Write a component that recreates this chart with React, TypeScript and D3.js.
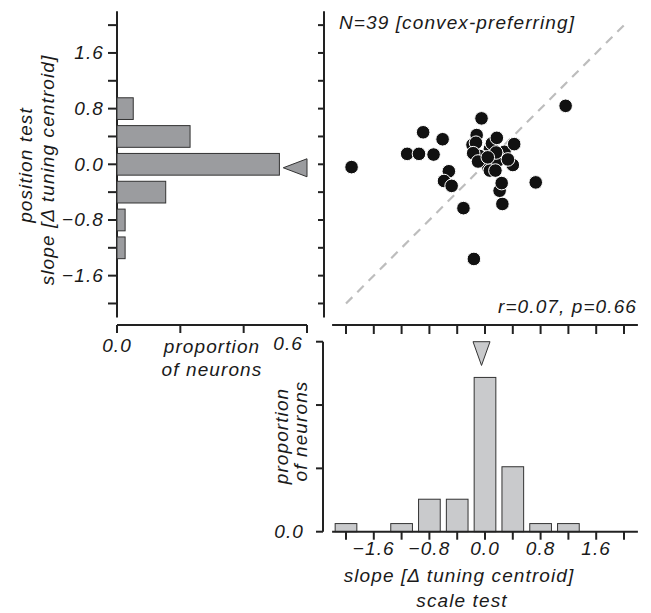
import React from "react";
import * as d3 from "d3";

// ---- data ----
const N = 39;
// position test histogram (bin centres, counts)
const posBins = [-1.2, -0.8, -0.4, 0.0, 0.4, 0.8];
const posCounts = [1, 1, 6, 20, 9, 2];
// scale test histogram
const scaleBins = [-2.0, -1.2, -0.8, -0.4, 0.0, 0.4, 0.8, 1.2];
const scaleCounts = [1, 1, 4, 4, 19, 8, 1, 1];
const medianScale = -0.05;
const medianPosition = -0.05;
// scatter: x = scale-test slope, y = position-test slope
const scaleSlope = [0.07, 0.28, -0.18, 0.10, -0.02, 0.12, -0.08, 0.22, 0.05, 0.18,
  -1.92, 1.16, -0.05, -0.89, -0.61, -1.12, -0.95, -0.74, -0.52, -0.59, -0.48, -0.31, -0.16,
  0.73, 0.25, 0.21, 0.24, 0.40, 0.42, 0.17, -0.12, -0.13, -0.17, -0.10, 0.16, 0.33, 0.07, 0.15, 0.04];
const positionSlope = [0.22, 0.18, 0.28, 0.30, 0.10, 0.02, 0.12, 0.08, -0.05, 0.05,
  -0.04, 0.84, 0.66, 0.46, 0.36, 0.15, 0.15, 0.14, -0.10, -0.24, -0.31, -0.63, -1.36,
  -0.26, -0.57, -0.38, -0.27, -0.01, 0.29, 0.38, 0.42, 0.31, 0.16, 0.04, 0.17, 0.07, -0.09, -0.09, 0.10];
const slopeTicks = d3.range(-2.0, 2.0001, 0.4).map((v) => +v.toFixed(1));
const slopeLabels = [-1.6, -0.8, 0.0, 0.8, 1.6];
const propTicks = [0, 0.2, 0.4, 0.6];
const diagonal = [-2.0, 2.0];

const fmt = (v: number) => (v < 0 ? "\u2212" : "") + Math.abs(v).toFixed(1);

export default function App() {
  const W = 651, H = 613;
  const yS = d3.scaleLinear().domain([-2.2, 2.2]).range([317.4, 11.2]);
  const xS = d3.scaleLinear().domain([-2.2, 2.2]).range([332.1, 637.9]);
  const pX = d3.scaleLinear().domain([0, 0.6]).range([117, 307]);
  const pY = d3.scaleLinear().domain([0, 0.6]).range([531.7, 341.7]);
  const binW = 0.4;
  const ink = "#222";
  const font = {
    fontFamily: "'Liberation Sans', Arial, sans-serif",
    fontStyle: "italic" as const,
    fontSize: 19,
    letterSpacing: 1.1,
    fill: "#1a1a1a",
  };
  const leftAxisX = 117;
  const scatAxisX = 324;
  const scatAxisY = 325;
  const leftBarColor = "#9b9c9f";
  const botBarColor = "#c9cacc";

  const barH = Math.abs(yS(0) - yS(binW)) * 0.78;
  const barW = Math.abs(xS(binW) - xS(0)) * 0.78;

  const pts = scaleSlope.map((x, i) => ({ x, y: positionSlope[i] }));

  return (
    <svg width={W} height={H} style={{ position: "absolute", left: 0, top: 0, background: "#fff" }}>
      {/* ---------- left histogram ---------- */}
      <line x1={leftAxisX} x2={leftAxisX} y1={yS(2.2)} y2={yS(-2.2)} stroke={ink} strokeWidth={2} />
      {slopeTicks.map((t) => (
        <line key={"ly" + t} x1={leftAxisX - 9} x2={leftAxisX} y1={yS(t)} y2={yS(t)} stroke={ink} strokeWidth={2} />
      ))}
      {slopeLabels.map((t) => (
        <text key={"lyl" + t} x={leftAxisX - 13} y={yS(t) + 6.5} textAnchor="end" {...font}>{fmt(t)}</text>
      ))}
      {posBins.map((b, i) => (
        <rect key={"pb" + b} x={pX(0)} y={yS(b) - barH / 2} width={pX(posCounts[i] / N) - pX(0)} height={barH}
          fill={leftBarColor} stroke="#333" strokeWidth={1} />
      ))}
      <path d={`M${pX(0.525)},${yS(medianPosition)} L${pX(0.6)},${yS(medianPosition) - 9} L${pX(0.6)},${yS(medianPosition) + 9} Z`}
        fill={leftBarColor} stroke="#333" strokeWidth={1} />
      {/* left x axis */}
      <line x1={pX(0)} x2={pX(0.6)} y1={scatAxisY} y2={scatAxisY} stroke={ink} strokeWidth={2} />
      {propTicks.map((t) => (
        <line key={"lx" + t} x1={pX(t)} x2={pX(t)} y1={scatAxisY} y2={scatAxisY + 8} stroke={ink} strokeWidth={2} />
      ))}
      <text x={pX(0)} y={352} textAnchor="middle" {...font}>0.0</text>
      {/* shared "0.6" label (left histogram x axis / bottom histogram y axis) */}
      <text x={303} y={350} textAnchor="end" {...font}>0.6</text>
      <text x={212} y={353} textAnchor="middle" {...font}>proportion</text>
      <text x={212} y={376} textAnchor="middle" {...font}>of neurons</text>
      {/* left y title */}
      <text transform={`translate(32,${165}) rotate(-90)`} textAnchor="middle" {...font}>position test</text>
      <text transform={`translate(54,${170}) rotate(-90)`} textAnchor="middle" {...font}>slope [Δ tuning centroid]</text>

      {/* ---------- scatter ---------- */}
      <line x1={scatAxisX} x2={scatAxisX} y1={yS(2.2)} y2={yS(-2.2)} stroke={ink} strokeWidth={2} />
      {slopeTicks.map((t) => (
        <line key={"sy" + t} x1={scatAxisX - 6} x2={scatAxisX} y1={yS(t)} y2={yS(t)} stroke={ink} strokeWidth={2} />
      ))}
      <line x1={xS(-2.2)} x2={xS(2.2)} y1={scatAxisY} y2={scatAxisY} stroke={ink} strokeWidth={2} />
      {slopeTicks.map((t) => (
        <line key={"sx" + t} x1={xS(t)} x2={xS(t)} y1={scatAxisY} y2={scatAxisY + 9} stroke={ink} strokeWidth={2} />
      ))}
      <line x1={xS(diagonal[0])} y1={yS(diagonal[0])} x2={xS(diagonal[1])} y2={yS(diagonal[1])}
        stroke="#bdbdbd" strokeWidth={2.2} strokeDasharray="9,7" />
      {pts.map((p, i) => (
        <circle key={"pt" + i} cx={xS(p.x)} cy={yS(p.y)} r={6.8} fill="#111" stroke="#fff" strokeWidth={1} />
      ))}
      <text x={339} y={29} {...font}>N=39 [convex-preferring]</text>
      <text x={637} y={313} textAnchor="end" {...font}>r=0.07, p=0.66</text>

      {/* ---------- bottom histogram ---------- */}
      <line x1={scatAxisX - 1} x2={scatAxisX - 1} y1={pY(0.6)} y2={pY(0)} stroke={ink} strokeWidth={2} />
      {propTicks.map((t) => (
        <line key={"by" + t} x1={scatAxisX - 8} x2={scatAxisX - 1} y1={pY(t)} y2={pY(t)} stroke={ink} strokeWidth={2} />
      ))}
      <text x={304} y={pY(0) + 6} textAnchor="end" {...font}>0.0</text>
      <text transform={`translate(288,${436}) rotate(-90)`} textAnchor="middle" {...font}>proportion</text>
      <text transform={`translate(307,${431}) rotate(-90)`} textAnchor="middle" {...font}>of neurons</text>
      {scaleBins.map((b, i) => (
        <rect key={"sb" + b} x={xS(b) - barW / 2} y={pY(scaleCounts[i] / N)} width={barW} height={pY(0) - pY(scaleCounts[i] / N)}
          fill={botBarColor} stroke="#333" strokeWidth={1} />
      ))}
      <path d={`M${xS(medianScale)},${pY(0.525)} L${xS(medianScale) - 8.5},${pY(0.6)} L${xS(medianScale) + 8.5},${pY(0.6)} Z`}
        fill={botBarColor} stroke="#333" strokeWidth={1} />
      <line x1={xS(-2.2)} x2={xS(2.2)} y1={pY(0)} y2={pY(0)} stroke={ink} strokeWidth={2} />
      {slopeTicks.map((t) => (
        <line key={"bx" + t} x1={xS(t)} x2={xS(t)} y1={pY(0)} y2={pY(0) + 8} stroke={ink} strokeWidth={2} />
      ))}
      {slopeLabels.map((t) => (
        <text key={"bxl" + t} x={xS(t)} y={555} textAnchor="middle" {...font}>{fmt(t)}</text>
      ))}
      <text x={459} y={582} textAnchor="middle" {...font}>slope [Δ tuning centroid]</text>
      <text x={462} y={607} textAnchor="middle" {...font}>scale test</text>
    </svg>
  );
}
